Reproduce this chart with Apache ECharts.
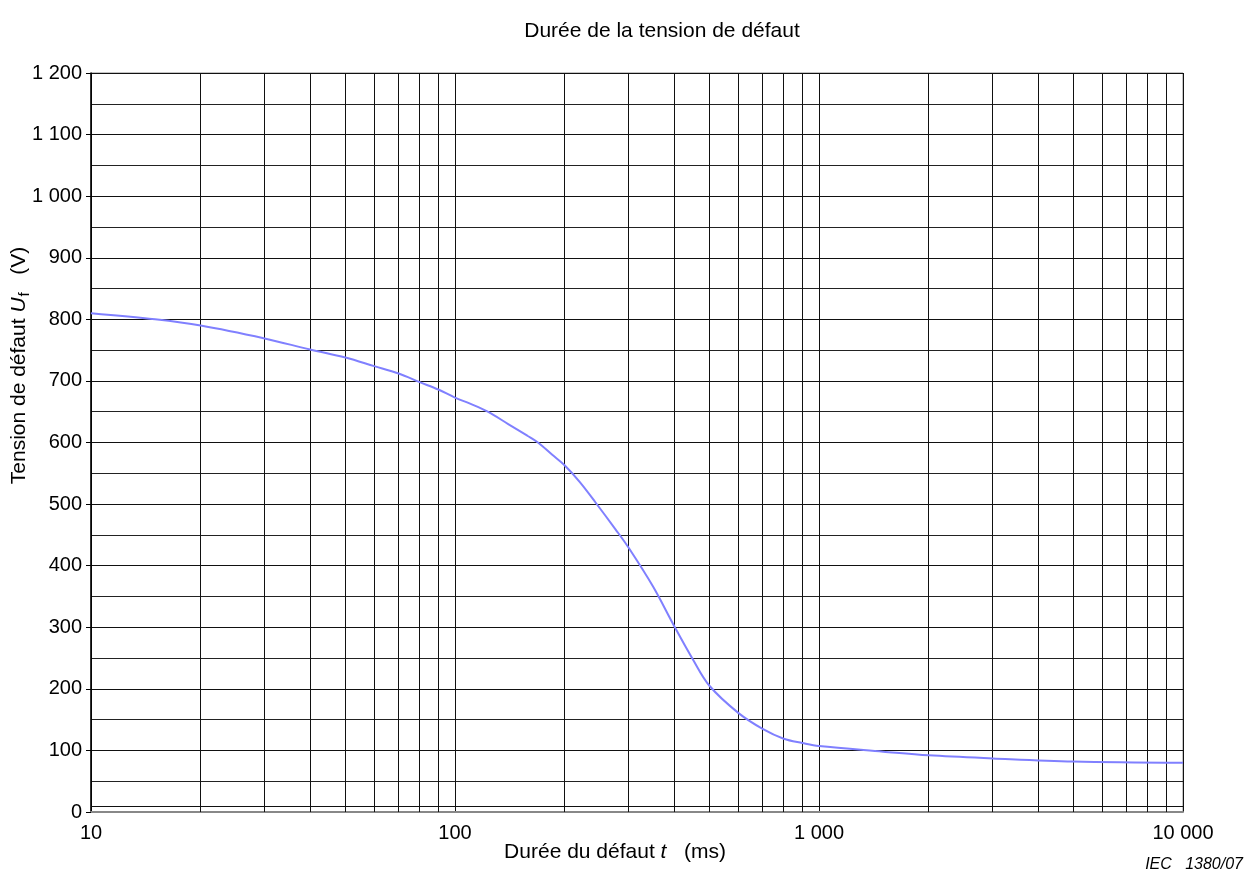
<!DOCTYPE html>
<html>
<head>
<meta charset="utf-8">
<script src="https://cdn.jsdelivr.net/npm/echarts@6/dist/echarts.min.js"></script>
<style>html,body{margin:0;padding:0;background:#fff}#c{width:1245px;height:875px}</style>
</head>
<body>
<div id="c"></div>
<script>
// Durée du défaut t (ms)
const durations = [10, 15, 20, 30, 40, 50, 60, 70, 80, 90, 100, 110, 123, 140, 158, 169, 185, 200, 220, 243, 276, 300, 350, 400, 450, 500, 600, 700, 800, 900, 1000, 1500, 2000, 3000, 5000, 10000];
// Tension de défaut Uf (V)
const voltages = [810, 800, 790, 769, 751, 738, 724, 712, 698, 686, 673, 663, 650, 630, 611, 600, 580, 563, 536, 503, 459, 429, 366, 302, 248, 205, 161, 135, 119, 112, 107, 98, 92, 87, 82, 80];
// minor vertical grid lines of the log paper
const minorX = [20,30,40,50,60,70,80,90,200,300,400,500,600,700,800,900,2000,3000,4000,5000,6000,7000,8000,9000];
const extraY = [10];

const fmt = v => String(Math.round(v)).replace(/\B(?=(\d{3})+(?!\d))/g, ' ');
const FONT = 'Liberation Sans, Arial, sans-serif';

const chart = echarts.init(document.getElementById('c'), null, {renderer: 'canvas'});
chart.setOption({
  animation: false,
  backgroundColor: '#fff',
  textStyle: {fontFamily: FONT},
  title: {
    text: 'Durée de la tension de défaut',
    left: 657, top: 16, textAlign: 'center',
    textStyle: {fontSize: 21, fontWeight: 'normal', color: '#000', fontFamily: FONT}
  },
  grid: {left: 91, right: 62, top: 73, bottom: 63, show: true, borderColor: '#888', borderWidth: 1, outerBoundsMode: 'none', containLabel: false},
  xAxis: {
    type: 'log', logBase: 10, min: 10, max: 10000,
    name: '{a|Durée du défaut }{i|t}{a|   (ms)}',
    nameLocation: 'middle', nameGap: 30, nameMoveOverlap: false,
    nameTextStyle: {padding: [0, 44, 0, 0], rich: {
      a: {fontSize: 21, color: '#000', fontFamily: FONT},
      i: {fontSize: 21, color: '#000', fontStyle: 'italic', fontFamily: FONT}
    }},
    axisLine: {show: true, lineStyle: {color: '#888', width: 2}},
    axisTick: {show: false},
    axisLabel: {formatter: fmt, fontSize: 20, color: '#000', margin: 11},
    splitLine: {show: true, lineStyle: {color: '#111', width: 1}},
    minorTick: {show: false}, minorSplitLine: {show: false}
  },
  yAxis: {
    type: 'value', min: 0, max: 1200, interval: 100,
    name: '{a|Tension de défaut }{u|U}{s|f}{a|   (V)}',
    nameLocation: 'middle', nameRotate: 90, nameGap: 59, nameMoveOverlap: false,
    nameTextStyle: {padding: [0, 0, 0, 154], rich: {
      a: {fontSize: 21, color: '#000', fontFamily: FONT},
      u: {fontSize: 21, color: '#000', fontStyle: 'italic', fontFamily: FONT},
      s: {fontSize: 15, color: '#000', fontFamily: FONT, verticalAlign: 'bottom', padding: [10, 0, 0, 1]}
    }},
    axisLine: {show: true, lineStyle: {color: '#000', width: 1.5}},
    axisTick: {show: true, length: 5, lineStyle: {color: '#000'}},
    axisLabel: {formatter: fmt, fontSize: 20, color: '#000', margin: 9},
    splitLine: {show: true, lineStyle: {color: '#111', width: 1}},
    minorTick: {show: false, splitNumber: 2},
    minorSplitLine: {show: true, lineStyle: {color: '#222', width: 1}}
  },
  graphic: [{
    type: 'text', right: 2, top: 857,
    style: {text: 'IEC   1380/07', font: 'italic 16px ' + FONT, fill: '#000'}
  }],
  series: [{
    type: 'line',
    data: durations.map((t, i) => [t, voltages[i]]),
    smooth: 0.35,
    symbol: 'none',
    lineStyle: {color: '#8080ff', width: 2},
    z: 5,
    markLine: {
      silent: true, symbol: 'none', animation: false,
      label: {show: false},
      lineStyle: {color: '#111', width: 1, type: 'solid'},
      data: minorX.map(v => ({xAxis: v})).concat(extraY.map(v => ({yAxis: v})))
    }
  }]
});
</script>
</body>
</html>
